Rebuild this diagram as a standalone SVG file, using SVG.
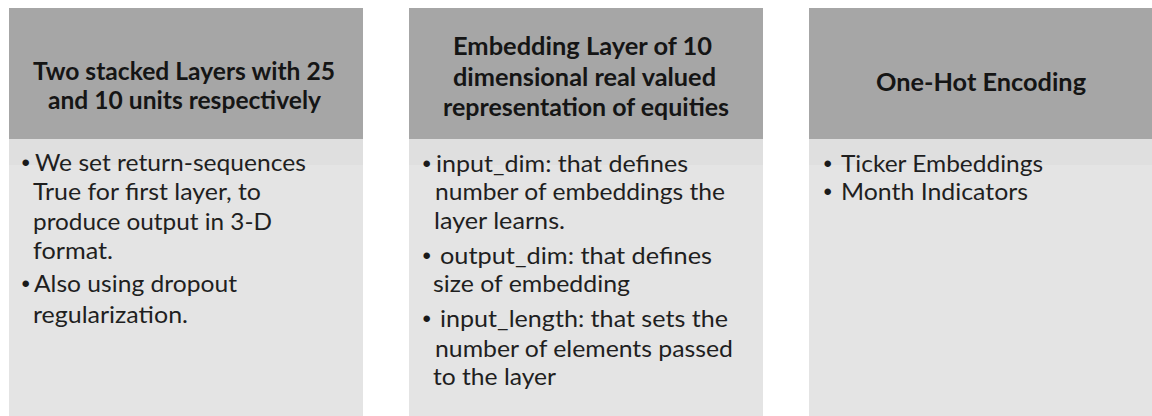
<svg xmlns="http://www.w3.org/2000/svg" width="1152" height="416" viewBox="0 0 1152 416">
  <style>
    .head { fill: #a6a6a6; }
    .band { fill: #dfdfdf; }
    .body { fill: #e4e4e4; }
    .title { font-family: Lato, "Liberation Sans", sans-serif; font-weight: bold; font-size: 24px; fill: #151515; }
    .item { font-family: Lato, "Liberation Sans", sans-serif; font-size: 24px; fill: #1f1f1f; }
    .dot { font-family: "Liberation Sans", sans-serif; font-size: 24px; fill: #1a1a1a; }
  </style>
  <rect width="1152" height="416" fill="#ffffff"/>

  <!-- Panel 1: stacked recurrent layers -->
  <g id="stacked-layers">
    <rect class="body" x="9" y="139" width="354" height="277"/>
    <rect class="band" x="9" y="139" width="354" height="26"/>
    <rect class="head" x="9" y="8" width="354" height="131"/>
    <text class="title" x="33" y="80" textLength="302" lengthAdjust="spacingAndGlyphs">Two stacked Layers with 25</text>
    <text class="title" x="48" y="109" textLength="273" lengthAdjust="spacingAndGlyphs">and 10 units respectively</text>
    <text class="dot" x="21.5" y="171">•</text>
    <text class="item" x="35" y="171" textLength="271" lengthAdjust="spacingAndGlyphs">We set return-sequences</text>
    <text class="item" x="33" y="200" textLength="228" lengthAdjust="spacingAndGlyphs">True for first layer, to</text>
    <text class="item" x="33" y="229.5" textLength="239" lengthAdjust="spacingAndGlyphs">produce output in 3-D</text>
    <text class="item" x="33" y="259" textLength="80" lengthAdjust="spacingAndGlyphs">format.</text>
    <text class="dot" x="21.5" y="292">•</text>
    <text class="item" x="34" y="292" textLength="203" lengthAdjust="spacingAndGlyphs">Also using dropout</text>
    <text class="item" x="33" y="322.5" textLength="155" lengthAdjust="spacingAndGlyphs">regularization.</text>
  </g>

  <!-- Panel 2: embedding layer -->
  <g id="embedding-layer">
    <rect class="body" x="409" y="139" width="354" height="277"/>
    <rect class="band" x="409" y="139" width="354" height="26"/>
    <rect class="head" x="409" y="8" width="354" height="131"/>
    <text class="title" x="453" y="55" textLength="259" lengthAdjust="spacingAndGlyphs">Embedding Layer of 10</text>
    <text class="title" x="453" y="86" textLength="263" lengthAdjust="spacingAndGlyphs">dimensional real valued</text>
    <text class="title" x="443" y="116" textLength="286" lengthAdjust="spacingAndGlyphs">representation of equities</text>
    <text class="dot" x="422.5" y="171.5">•</text>
    <text class="item" x="436" y="171.5" textLength="252" lengthAdjust="spacingAndGlyphs">input_dim: that defines</text>
    <text class="item" x="435" y="200" textLength="290" lengthAdjust="spacingAndGlyphs">number of embeddings the</text>
    <text class="item" x="434" y="228.5" textLength="131" lengthAdjust="spacingAndGlyphs">layer learns.</text>
    <text class="dot" x="422.5" y="263.5">•</text>
    <text class="item" x="440" y="263.5" textLength="272" lengthAdjust="spacingAndGlyphs">output_dim: that defines</text>
    <text class="item" x="433" y="292" textLength="197" lengthAdjust="spacingAndGlyphs">size of embedding</text>
    <text class="dot" x="422.5" y="327">•</text>
    <text class="item" x="440" y="327" textLength="288" lengthAdjust="spacingAndGlyphs">input_length: that sets the</text>
    <text class="item" x="435" y="356.5" textLength="298" lengthAdjust="spacingAndGlyphs">number of elements passed</text>
    <text class="item" x="433" y="385" textLength="123" lengthAdjust="spacingAndGlyphs">to the layer</text>
  </g>

  <!-- Panel 3: one-hot inputs -->
  <g id="one-hot-encoding">
    <rect class="body" x="809" y="139" width="344" height="277"/>
    <rect class="band" x="809" y="139" width="344" height="26"/>
    <rect class="head" x="809" y="8" width="344" height="131"/>
    <text class="title" x="876" y="91" textLength="210" lengthAdjust="spacingAndGlyphs">One-Hot Encoding</text>
    <text class="dot" x="823.5" y="171.5">•</text>
    <text class="item" x="841" y="171.5" textLength="202" lengthAdjust="spacingAndGlyphs">Ticker Embeddings</text>
    <text class="dot" x="823.5" y="200">•</text>
    <text class="item" x="841" y="200" textLength="187" lengthAdjust="spacingAndGlyphs">Month Indicators</text>
  </g>

  <!-- no connectors between the panels -->
  <g id="connectors"/>
</svg>
